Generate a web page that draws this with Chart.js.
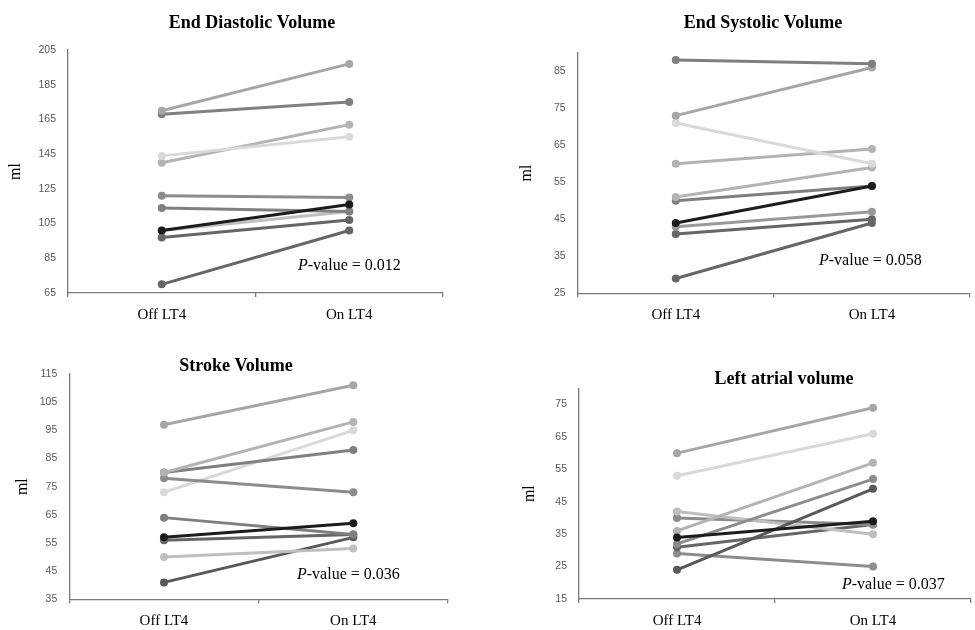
<!DOCTYPE html>
<html>
<head>
<meta charset="utf-8">
<script src="https://cdn.jsdelivr.net/npm/chart.js@4.4.0/dist/chart.umd.min.js"></script>
<style>
  html, body { margin: 0; padding: 0; background: #fff; }
  #wrap { position: relative; width: 975px; height: 630px; overflow: hidden; }
  .panel { position: absolute; }
</style>
</head>
<body>
<div id="wrap">
  <div class="panel" style="left:0;top:0;width:487px;height:340px"><canvas id="edvChart"></canvas></div>
  <div class="panel" style="left:487px;top:0;width:488px;height:340px"><canvas id="esvChart"></canvas></div>
  <div class="panel" style="left:0;top:340px;width:487px;height:290px"><canvas id="svChart"></canvas></div>
  <div class="panel" style="left:487px;top:340px;width:488px;height:290px"><canvas id="lavChart"></canvas></div>
</div>
<script>
// categories
const categories = ["Off LT4", "On LT4"];

// End diastolic volume (ml), one entry per patient
const edvOff = [101, 170, 168, 144, 140, 121, 114, 101, 97, 70];
const edvOn = [116, 197, 175, 155, 162, 120, 112, 112, 107, 101];

// End systolic volume (ml)
const esvOff = [44, 88, 73, 71, 60, 51, 50, 43, 41, 29];
const esvOn = [54, 87, 86, 60, 64, 59, 54, 47, 45, 44];

// Stroke volume (ml)
const svOff = [57, 97, 80, 80, 78, 73, 64, 56, 50, 41];
const svOn = [62, 111, 98, 88, 73, 95, 58, 58, 53, 57];

// Left atrial volume (ml)
const lavOff = [34, 60, 53, 36, 32, 24, 42, 40, 31, 29];
const lavOn = [39, 74, 66, 57, 52, 49, 35, 38, 38, 25];

// y tick labels
const edvTicks = [65, 85, 105, 125, 145, 165, 185, 205];
const esvTicks = [25, 35, 45, 55, 65, 75, 85];
const svTicks = [35, 45, 55, 65, 75, 85, 95, 105, 115];
const lavTicks = [15, 25, 35, 45, 55, 65, 75];

const titles = ["End Diastolic Volume", "End Systolic Volume", "Stroke Volume", "Left atrial volume"];
const pValues = ["0.012", "0.058", "0.036", "0.037"];

// line colours, per patient
const edvColors = ["#1c1c1c", "#a6a6a6", "#808080", "#d9d9d9", "#b3b3b3", "#8c8c8c", "#808080", "#bfbfbf", "#666666", "#666666"];
const esvColors = ["#1c1c1c", "#7f7f7f", "#a6a6a6", "#d9d9d9", "#b3b3b3", "#b3b3b3", "#7f7f7f", "#999999", "#666666", "#666666"];
const svColors = ["#1c1c1c", "#a6a6a6", "#b3b3b3", "#808080", "#8c8c8c", "#d9d9d9", "#7f7f7f", "#666666", "#bfbfbf", "#595959"];
const lavColors = ["#1c1c1c", "#a6a6a6", "#d9d9d9", "#b3b3b3", "#8c8c8c", "#595959", "#bfbfbf", "#8c8c8c", "#666666", "#8c8c8c"];

const axisGrey = "#7a7a7a";

// draws the panel title and the P-value note
const panelText = {
  id: "panelText",
  afterDraw(chart, args, opts) {
    const ctx = chart.ctx;
    ctx.save();
    ctx.fillStyle = "#000";
    ctx.textBaseline = "alphabetic";
    ctx.textAlign = "center";
    ctx.font = 'bold 18px "Liberation Serif"';
    ctx.fillText(opts.title, opts.titleX, opts.titleY);
    ctx.textAlign = "left";
    ctx.font = 'italic 16px "Liberation Serif"';
    ctx.fillText("P", opts.pX, opts.pY);
    const w = ctx.measureText("P").width;
    ctx.font = '16px "Liberation Serif"';
    ctx.fillText("-value = " + opts.pValue, opts.pX + w, opts.pY);
    ctx.restore();
  },
};

function makeChart(id, off, on, colors, ticks, box, text) {
  const datasets = off.map((v, i) => ({
    data: [v, on[i]],
    borderColor: colors[i],
    backgroundColor: colors[i],
    borderWidth: 3,
    pointRadius: 4,
    pointBorderWidth: 0,
    tension: 0,
  }));

  return new Chart(document.getElementById(id), {
    type: "line",
    data: { labels: categories, datasets: datasets },
    options: {
      responsive: true,
      maintainAspectRatio: false,
      animation: false,
      devicePixelRatio: 1,
      events: [],
      layout: { padding: { top: box.top, right: box.right, left: 0, bottom: 0 } },
      plugins: {
        legend: { display: false },
        tooltip: { enabled: false },
        panelText: text,
      },
      scales: {
        x: {
          offset: true,
          grid: {
            offset: true,
            drawOnChartArea: false,
            drawTicks: true,
            tickLength: 4,
            color: axisGrey,
            lineWidth: 1.3,
          },
          border: { display: true, color: axisGrey, width: 1.3 },
          ticks: {
            color: "#000",
            padding: 9,
            font: { family: '"Liberation Serif"', size: 15 },
          },
          afterFit: (s) => { s.height = box.xh; },
        },
        y: {
          min: ticks[0],
          max: box.max,
          grid: { display: false, drawTicks: false },
          border: { display: true, color: axisGrey, width: 1.3 },
          ticks: {
            color: "#595959",
            padding: 12,
            font: { family: '"Liberation Sans"', size: 10.5 },
          },
          afterBuildTicks: (s) => { s.ticks = ticks.map((v) => ({ value: v })); },
          title: {
            display: true,
            text: "ml",
            color: "#000",
            font: { family: '"Liberation Serif"', size: 16 },
            padding: { top: box.tp, bottom: 0 },
          },
          afterFit: (s) => { s.width = box.yw; },
        },
      },
    },
    plugins: [panelText],
  });
}

makeChart("edvChart", edvOff, edvOn, edvColors, edvTicks,
  { top: 50, right: 44, xh: 47, yw: 68, tp: 6, max: 205 },
  { title: titles[0], titleX: 252, titleY: 27.5, pValue: pValues[0], pX: 298, pY: 270 });

makeChart("esvChart", esvOff, esvOn, esvColors, esvTicks,
  { top: 52.7, right: 5, xh: 46.7, yw: 90.7, tp: 30, max: 90 },
  { title: titles[1], titleX: 276, titleY: 28.3, pValue: pValues[1], pX: 332, pY: 265 });

makeChart("svChart", svOff, svOn, svColors, svTicks,
  { top: 34, right: 39, xh: 30.7, yw: 69.3, tp: 13, max: 115 },
  { title: titles[2], titleX: 236, titleY: 30.7, pValue: pValues[2], pX: 297, pY: 239 });

makeChart("lavChart", lavOff, lavOn, lavColors, lavTicks,
  { top: 48.3, right: 0, xh: 31, yw: 92, tp: 33, max: 80 },
  { title: titles[3], titleX: 297, titleY: 44, pValue: pValues[3], pX: 355, pY: 248.7 });
</script>
</body>
</html>
